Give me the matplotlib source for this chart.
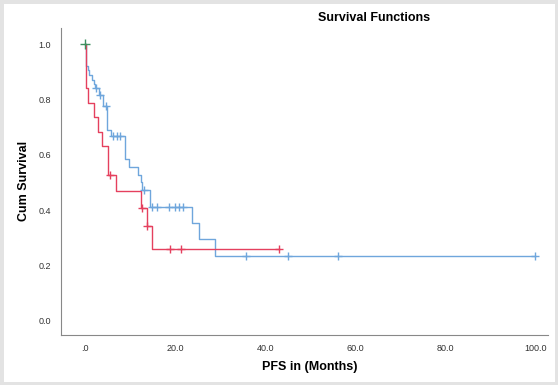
import matplotlib
matplotlib.use("Agg")
import matplotlib.pyplot as plt
from matplotlib.patches import Rectangle

# Kaplan-Meier step data
blue_t = [0.0, 0.1, 0.6, 0.95, 1.5, 1.9, 2.3, 3.0, 4.0, 4.9, 5.8, 8.8, 9.7, 11.7, 12.3, 12.7, 14.5, 23.7, 25.4, 28.8, 100.0]
blue_s = [1.0, 0.92, 0.906, 0.888, 0.872, 0.856, 0.84, 0.815, 0.775, 0.69, 0.668, 0.585, 0.556, 0.527, 0.50, 0.473, 0.41, 0.354, 0.296, 0.235, 0.235]
blue_cens_t = [2.4, 3.2, 4.6, 6.2, 7.1, 7.7, 13.1, 14.8, 15.9, 18.6, 19.9, 20.8, 21.7, 35.8, 45.1, 56.2, 100.0]
blue_cens_s = [0.84, 0.815, 0.775, 0.668, 0.668, 0.668, 0.473, 0.41, 0.41, 0.41, 0.41, 0.41, 0.41, 0.235, 0.235, 0.235, 0.235]

red_t = [0.0, 0.1, 0.7, 2.0, 2.9, 3.7, 5.0, 6.9, 12.4, 13.7, 14.8, 43.1]
red_s = [1.0, 0.842, 0.789, 0.737, 0.684, 0.632, 0.526, 0.468, 0.409, 0.341, 0.26, 0.26]
red_cens_t = [5.5, 12.6, 13.8, 18.8, 21.2, 43.1]
red_cens_s = [0.526, 0.409, 0.341, 0.26, 0.26, 0.26]

both_cens_t = [0.0]
both_cens_s = [1.0]

x_ticks = [0, 20, 40, 60, 80, 100]
x_ticklabels = [".0", "20.0", "40.0", "60.0", "80.0", "100.0"]
y_ticks = [0.0, 0.2, 0.4, 0.6, 0.8, 1.0]
y_ticklabels = ["0.0", "0.2", "0.4", "0.6", "0.8", "1.0"]

BLUE = "#6fa6dc"
RED = "#e5405e"
GREEN = "#3d8f5f"

fig = plt.figure(figsize=(5.58, 3.85), dpi=100)
fig.patch.set_facecolor("white")
fig.add_artist(Rectangle((0, 0), 1, 1, transform=fig.transFigure, fill=False,
                         edgecolor="#e3e3e3", linewidth=5, zorder=10))

ax = fig.add_axes([0.109, 0.131, 0.873, 0.796])
ax.step(blue_t, blue_s, where="post", color=BLUE, lw=1.0)
ax.step(red_t, red_s, where="post", color=RED, lw=1.0)
ax.plot(blue_cens_t, blue_cens_s, ls="none", marker="+", ms=5.5, mew=1.0, color=BLUE)
ax.plot(red_cens_t, red_cens_s, ls="none", marker="+", ms=5.5, mew=1.0, color=RED)
ax.plot(both_cens_t, both_cens_s, ls="none", marker="+", ms=7, mew=1.0, color=GREEN)

ax.set_xlim(-5.4, 102.8)
ax.set_ylim(-0.05, 1.058)
ax.set_xticks(x_ticks)
ax.set_xticklabels(x_ticklabels)
ax.set_yticks(y_ticks)
ax.set_yticklabels(y_ticklabels)
ax.tick_params(length=0, labelsize=6.5, colors="#333333", pad=7)
for s in ["top", "right"]:
    ax.spines[s].set_visible(False)
for s in ["left", "bottom"]:
    ax.spines[s].set_color("#888888")
    ax.spines[s].set_linewidth(0.8)

fig.text(0.670, 0.953, "Survival Functions", ha="center", va="center",
         fontsize=9, fontweight="bold", family="Liberation Sans")
fig.text(0.556, 0.047, "PFS in (Months)", ha="center", va="center",
         fontsize=9, fontweight="bold", family="Liberation Sans")
fig.text(0.043, 0.53, "Cum Survival", ha="center", va="center", rotation=90,
         fontsize=9, fontweight="bold", family="Liberation Sans")
for lbl in ax.get_xticklabels() + ax.get_yticklabels():
    lbl.set_family("Liberation Sans")

fig.savefig("out.png", dpi=100)
